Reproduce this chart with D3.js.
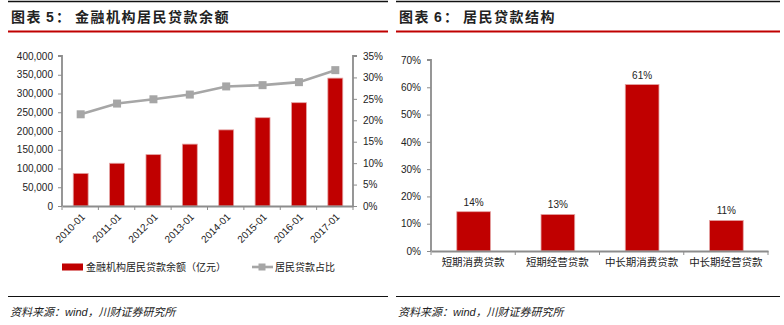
<!DOCTYPE html>
<html>
<head>
<meta charset="utf-8">
<script src="https://cdn.jsdelivr.net/npm/d3@7"></script>
<style>
  html, body { margin: 0; padding: 0; background: #fff; }
  svg { display: block; }
  text { font-family: "Liberation Sans", Arial, "Noto Sans CJK SC", sans-serif; fill: #222; }
  .cjk { font-family: "Noto Sans CJK SC", sans-serif; }
</style>
</head>
<body>
<svg id="chart" width="784" height="325"></svg>
<script>
// Left panel: household loan balance (bars) and household share of loans (line)
const years = ["2010-01", "2011-01", "2012-01", "2013-01", "2014-01", "2015-01", "2016-01", "2017-01"];
const loanBalance = [87000, 114000, 137000, 165000, 203000, 235500, 275500, 341000];
const loanShare = [0.214, 0.239, 0.249, 0.260, 0.279, 0.282, 0.289, 0.317];
const balanceTicks = [0, 50000, 100000, 150000, 200000, 250000, 300000, 350000, 400000];
const shareTicks = [0, 0.05, 0.10, 0.15, 0.20, 0.25, 0.30, 0.35];

// Right panel: structure of household loans
const loanTypes = ["短期消费贷款", "短期经营贷款", "中长期消费贷款", "中长期经营贷款"];
const loanTypeShare = [0.144, 0.134, 0.610, 0.112];
const structureTicks = [0, 0.1, 0.2, 0.3, 0.4, 0.5, 0.6, 0.7];

const RED = "#c00000";
const GREY = "#a6a6a6";
const AXIS = "#8c8c8c";

const svg = d3.select("#chart");

// ---------- panel frames: top rule, red title rule, bottom rule, source ----------
function frame(x0, x1, num, title) {
  svg.append("line").attr("x1", x0).attr("x2", x1).attr("y1", 1.5).attr("y2", 1.5)
    .attr("stroke", "#111").attr("stroke-width", 1.5);
  svg.append("line").attr("x1", x0).attr("x2", x1).attr("y1", 31.5).attr("y2", 31.5)
    .attr("stroke", RED).attr("stroke-width", 2.2);
  const t = svg.append("text").attr("y", 22).attr("font-size", 14).attr("font-weight", 700);
  t.append("tspan").attr("class", "cjk").attr("x", x0 + 3).attr("letter-spacing", 1.5).text("图表");
  t.append("tspan").attr("x", x0 + 38).attr("font-family", "Liberation Sans, Arial").text(num);
  t.append("tspan").attr("class", "cjk").attr("x", x0 + 48).text("：");
  t.append("tspan").attr("class", "cjk").attr("x", x0 + 67).attr("letter-spacing", 1.5).text(title);

  svg.append("line").attr("x1", x0).attr("x2", x1).attr("y1", 296.5).attr("y2", 296.5)
    .attr("stroke", "#111").attr("stroke-width", 1.2);
  const s = svg.append("text").attr("x", x0 + 2).attr("y", 316).attr("font-size", 11)
    .attr("font-style", "italic");
  s.append("tspan").attr("class", "cjk").text("资料来源：");
  s.append("tspan").attr("font-family", "Liberation Sans, Arial").text("wind");
  s.append("tspan").attr("class", "cjk").text("，川财证券研究所");
}
frame(8, 388, "5", "金融机构居民贷款余额");
frame(396, 780, "6", "居民贷款结构");

// ---------- left chart ----------
const L = { x0: 62, x1: 353, y0: 206, y1: 56 };
const xL = d3.scaleBand().domain(years).range([L.x0, L.x1]).paddingInner(0.59).paddingOuter(0.295);
const xLb = d3.scaleBand().domain(years).range([L.x0, L.x1]);
const yBal = d3.scaleLinear().domain([0, 400000]).range([L.y0, L.y1]);
const yShare = d3.scaleLinear().domain([0, 0.35]).range([L.y0, L.y1]);

const left = svg.append("g");

left.selectAll("rect.bal").data(loanBalance).join("rect")
  .attr("class", "bal")
  .attr("x", (d, i) => xL(years[i]) + 0.5)
  .attr("width", xL.bandwidth())
  .attr("y", d => yBal(d))
  .attr("height", d => yBal(0) - yBal(d))
  .attr("fill", RED)
  .attr("stroke", "#e4a3a3").attr("stroke-width", 0.8);

// left value axis
const axL = left.append("g").attr("transform", `translate(${L.x0},0)`)
  .call(d3.axisLeft(yBal).tickValues(balanceTicks).tickFormat(d3.format(",")).tickSize(4).tickPadding(5));
// right percentage axis
const axR = left.append("g").attr("transform", `translate(${L.x1},0)`)
  .call(d3.axisRight(yShare).tickValues(shareTicks).tickFormat(d3.format(".0%")).tickSize(4).tickPadding(6));
// category axis with ticks on band edges
const axB = left.append("g").attr("transform", `translate(0,${L.y0})`)
  .call(d3.axisBottom(xLb).tickSize(0).tickFormat(""));
axB.selectAll(".edge").data(years.concat(["end"])).join("line")
  .attr("class", "edge")
  .attr("x1", (d, i) => i < years.length ? xLb(d) : L.x1)
  .attr("x2", (d, i) => i < years.length ? xLb(d) : L.x1)
  .attr("y1", 0).attr("y2", 4).attr("stroke", AXIS).attr("stroke-width", 1);

[axL, axR, axB].forEach(a => {
  a.select(".domain").attr("stroke", AXIS).attr("stroke-width", 1.8);
  a.selectAll(".tick line").attr("stroke", AXIS);
  a.selectAll("text").attr("font-size", 10).attr("fill", "#222")
    .attr("font-family", "Liberation Sans, Arial");
});
axL.select(".domain").attr("d", `M-4,${L.y1}H0V${L.y0}`);
axR.select(".domain").attr("d", `M4,${L.y1}H0V${L.y0}`);

// rotated year labels
left.selectAll("text.year").data(years).join("text")
  .attr("class", "year")
  .attr("transform", d => `translate(${xLb(d) + xLb.bandwidth() / 2 + 3},${L.y0 + 9}) rotate(-45)`)
  .attr("text-anchor", "end")
  .attr("dy", "0.35em")
  .attr("font-size", 10)
  .text(d => d);

// share line with square markers
const cx = d => xLb(d) + xLb.bandwidth() / 2 + 0.5;
left.append("path")
  .datum(loanShare)
  .attr("fill", "none")
  .attr("stroke", GREY)
  .attr("stroke-width", 2.6)
  .attr("d", d3.line().x((d, i) => cx(years[i])).y(d => yShare(d)));
left.selectAll("rect.mk").data(loanShare).join("rect")
  .attr("class", "mk")
  .attr("x", (d, i) => cx(years[i]) - 4)
  .attr("y", d => yShare(d) - 4)
  .attr("width", 8).attr("height", 8)
  .attr("fill", GREY);

// legend
const lg = left.append("g").attr("transform", "translate(0,267)");
lg.append("rect").attr("x", 62).attr("y", -3.5).attr("width", 21).attr("height", 7).attr("fill", RED);
lg.append("text").attr("class", "cjk").attr("x", 86).attr("y", 0).attr("dy", "0.35em")
  .attr("font-size", 10).text("金融机构居民贷款余额（亿元）");
lg.append("line").attr("x1", 252).attr("x2", 273).attr("y1", 0).attr("y2", 0)
  .attr("stroke", GREY).attr("stroke-width", 2.6);
lg.append("rect").attr("x", 258.5).attr("y", -3.5).attr("width", 7).attr("height", 7).attr("fill", GREY);
lg.append("text").attr("class", "cjk").attr("x", 275).attr("y", 0).attr("dy", "0.35em")
  .attr("font-size", 10).text("居民贷款占比");

// ---------- right chart ----------
const R = { x0: 431, x1: 768, y0: 251, y1: 60 };
const xR = d3.scaleBand().domain(loanTypes).range([R.x0, R.x1]).paddingInner(0.6).paddingOuter(0.3);
const xRb = d3.scaleBand().domain(loanTypes).range([R.x0, R.x1]);
const yR = d3.scaleLinear().domain([0, 0.7]).range([R.y0, R.y1]);

const right = svg.append("g");

right.selectAll("rect.type").data(loanTypeShare).join("rect")
  .attr("class", "type")
  .attr("x", (d, i) => xR(loanTypes[i]) + 0.5)
  .attr("width", xR.bandwidth())
  .attr("y", d => yR(d))
  .attr("height", d => yR(0) - yR(d))
  .attr("fill", RED)
  .attr("stroke", "#e4a3a3").attr("stroke-width", 0.8);

right.selectAll("text.val").data(loanTypeShare).join("text")
  .attr("class", "val")
  .attr("x", (d, i) => xR(loanTypes[i]) + xR.bandwidth() / 2 + 0.5)
  .attr("y", d => yR(d) - 6)
  .attr("text-anchor", "middle")
  .attr("font-size", 10)
  .text(d => d3.format(".0%")(d));

const ayR = right.append("g").attr("transform", `translate(${R.x0},0)`)
  .call(d3.axisLeft(yR).tickValues(structureTicks).tickFormat(d3.format(".0%")).tickSize(4).tickPadding(6));
ayR.select(".domain").attr("d", `M-4,${R.y1}H0V${R.y0}`);
const axRb = right.append("g").attr("transform", `translate(0,${R.y0})`)
  .call(d3.axisBottom(xRb).tickSize(0).tickPadding(8));
axRb.selectAll(".edge").data(loanTypes.concat(["end"])).join("line")
  .attr("class", "edge")
  .attr("x1", (d, i) => i < loanTypes.length ? xRb(d) : R.x1)
  .attr("x2", (d, i) => i < loanTypes.length ? xRb(d) : R.x1)
  .attr("y1", 0).attr("y2", 4).attr("stroke", AXIS).attr("stroke-width", 1);

[ayR, axRb].forEach(a => {
  a.select(".domain").attr("stroke", AXIS).attr("stroke-width", 1.8);
  a.selectAll(".tick line").attr("stroke", AXIS);
  a.selectAll("text").attr("font-size", 10).attr("fill", "#222");
});
ayR.selectAll("text").attr("font-family", "Liberation Sans, Arial");
axRb.selectAll("text").attr("font-family", "Noto Sans CJK SC").attr("font-size", 10.5);
</script>
</body>
</html>
